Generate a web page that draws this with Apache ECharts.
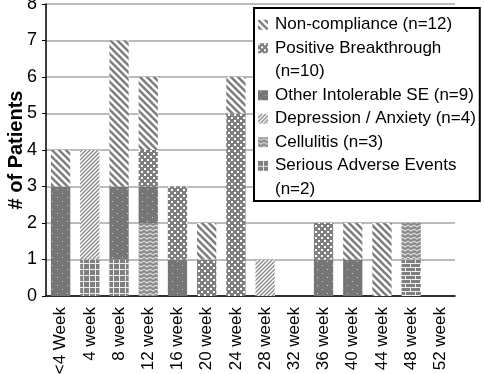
<!DOCTYPE html>
<html>
<head>
<meta charset="utf-8">
<script src="https://cdn.jsdelivr.net/npm/echarts@6/dist/echarts.min.js"></script>
<style>
  html, body { margin: 0; padding: 0; background: #fff; }
  #chart { width: 484px; height: 374px; }
</style>
</head>
<body>
<div id="chart"></div>
<script>
var categories = ['<4 Week', '4 week', '8 week', '12 week', '16 week', '20 week', '24 week',
  '28 week', '32 week', '36 week', '40 week', '44 week', '48 week', '52 week'];
var yTicks = [0, 1, 2, 3, 4, 5, 6, 7, 8];

// stacked bottom -> top
var seriousAE     = [0, 1, 1, 0, 0, 0, 0, 0, 0, 0, 0, 0, 0, 0];
var unlisted      = [0, 0, 0, 0, 0, 0, 0, 0, 0, 0, 0, 0, 1, 0];
var cellulitis    = [0, 0, 0, 2, 0, 0, 0, 0, 0, 0, 0, 0, 1, 0];
var otherSE       = [3, 0, 2, 1, 1, 0, 0, 0, 0, 1, 1, 0, 0, 0];
var depression    = [0, 3, 0, 0, 0, 0, 0, 1, 0, 0, 0, 0, 0, 0];
var positiveBT    = [0, 0, 0, 1, 2, 1, 5, 0, 0, 1, 0, 0, 0, 0];
var nonCompliance = [1, 0, 4, 2, 0, 1, 1, 0, 0, 0, 1, 2, 0, 0];

var names = {
  nc: 'Non-compliance (n=12)',
  pb: 'Positive Breakthrough',
  pbN: '(n=10)',
  ose: 'Other Intolerable SE (n=9)',
  dep: 'Depression / Anxiety (n=4)',
  cel: 'Cellulitis (n=3)',
  sae: 'Serious Adverse Events',
  saeN: '(n=2)'
};

function makePattern(w, h, draw) {
  var c = document.createElement('canvas');
  c.width = w;
  c.height = h;
  var ctx = c.getContext('2d');
  draw(ctx, w, h);
  return { image: c, repeat: 'repeat' };
}

var GRAY = '#7f7f7f';

var patNC = makePattern(7, 7, function (ctx, w, h) {
  ctx.fillStyle = '#fff';
  ctx.fillRect(0, 0, w, h);
  ctx.strokeStyle = GRAY;
  ctx.lineWidth = 2.6;
  for (var k = -1; k <= 1; k++) {
    ctx.beginPath();
    ctx.moveTo(k * w - 2, -2);
    ctx.lineTo(k * w + w + 2, h + 2);
    ctx.stroke();
  }
});

var patPB = makePattern(6, 6, function (ctx, w, h) {
  ctx.fillStyle = GRAY;
  ctx.fillRect(0, 0, w, h);
  ctx.fillStyle = '#fff';
  ctx.fillRect(0, 0, 2, 2);
  ctx.fillRect(3, 3, 2, 2);
});

var patOSE = makePattern(10, 8, function (ctx, w, h) {
  ctx.fillStyle = '#767676';
  ctx.fillRect(0, 0, w, h);
  ctx.fillStyle = '#d0d0d0';
  ctx.fillRect(2, 1, 1, 1);
  ctx.fillRect(7, 5, 1, 1);
});

var patDEP = makePattern(4, 4, function (ctx, w, h) {
  ctx.fillStyle = '#fff';
  ctx.fillRect(0, 0, w, h);
  ctx.strokeStyle = '#8c8c8c';
  ctx.lineWidth = 1.4;
  for (var k = -1; k <= 1; k++) {
    ctx.beginPath();
    ctx.moveTo(k * w - 1, h + 1);
    ctx.lineTo(k * w + w + 1, -1);
    ctx.stroke();
  }
});

var patCEL = makePattern(6, 4, function (ctx, w, h) {
  ctx.fillStyle = '#8a8a8a';
  ctx.fillRect(0, 0, w, h);
  ctx.strokeStyle = '#e0e0e0';
  ctx.lineWidth = 1.1;
  ctx.beginPath();
  ctx.moveTo(-1, 0.5);
  ctx.lineTo(3, 3);
  ctx.lineTo(7, 0.5);
  ctx.stroke();
});

var patSAE = makePattern(6, 6, function (ctx, w, h) {
  ctx.fillStyle = GRAY;
  ctx.fillRect(0, 0, w, h);
  ctx.fillStyle = '#f0f0f0';
  ctx.fillRect(5, 0, 1, h);
  ctx.fillRect(0, 5, w, 1);
});

var patBrick = makePattern(10, 8, function (ctx, w, h) {
  ctx.fillStyle = GRAY;
  ctx.fillRect(0, 0, w, h);
  ctx.fillStyle = '#f0f0f0';
  ctx.fillRect(0, 3, w, 1);
  ctx.fillRect(0, 7, w, 1);
  ctx.fillRect(0, 0, 1, 3);
  ctx.fillRect(5, 4, 1, 3);
});

function barSeries(name, data, pattern) {
  return {
    name: name,
    type: 'bar',
    stack: 'total',
    barWidth: '66%',
    data: data,
    itemStyle: { color: pattern },
    emphasis: { disabled: true }
  };
}

var chart = echarts.init(document.getElementById('chart'));
var FONT = 'Liberation Sans';
var noIcon = { color: 'rgba(0,0,0,0)' };

var option = {
  backgroundColor: '#fff',
  animation: false,
  grid: { left: 46, right: 29, top: 4, bottom: 78, outerBoundsMode: 'none' },
  legend: {
    orient: 'vertical',
    left: 254,
    top: 8,
    padding: [5, 4, 0, 4],
    itemGap: 0,
    itemWidth: 10,
    itemHeight: 10,
    icon: 'rect',
    backgroundColor: '#fff',
    borderColor: '#000',
    borderWidth: 2,
    borderRadius: 0,
    textStyle: { fontFamily: FONT, fontSize: 17, color: '#000', lineHeight: 23.5, padding: [0, 0, 0, 2] },
    data: [
      names.nc,
      names.pb,
      { name: names.pbN, itemStyle: noIcon },
      names.ose,
      names.dep,
      names.cel,
      names.sae,
      { name: names.saeN, itemStyle: noIcon }
    ],
    selectedMode: false,
    z: 10
  },
  xAxis: {
    type: 'category',
    data: categories,
    axisLine: { lineStyle: { color: '#000', width: 1.5 } },
    axisTick: { show: false },
    axisLabel: {
      rotate: 90,
      interval: 0,
      margin: 11,
      fontFamily: FONT,
      fontSize: 17,
      color: '#000'
    }
  },
  yAxis: {
    type: 'value',
    min: 0,
    max: 8,
    interval: 1,
    name: '# of Patients',
    nameLocation: 'middle',
    nameGap: 20,
    nameMoveOverlap: false,
    nameTextStyle: { fontFamily: FONT, fontSize: 20, fontWeight: 'bold', color: '#000' },
    axisLine: { show: true, lineStyle: { color: '#000', width: 1.5 } },
    axisTick: { show: true, length: 4, lineStyle: { color: '#000' } },
    axisLabel: {
      margin: 9,
      fontFamily: FONT,
      fontSize: 18,
      color: '#000',
      formatter: function (v) { return yTicks.indexOf(v) >= 0 ? String(v) : ''; }
    },
    splitLine: { lineStyle: { color: '#a6a6a6', width: 1.5 } }
  },
  series: [
    barSeries(names.sae, seriousAE, patSAE),
    barSeries('brick', unlisted, patBrick),
    barSeries(names.cel, cellulitis, patCEL),
    barSeries(names.ose, otherSE, patOSE),
    barSeries(names.dep, depression, patDEP),
    barSeries(names.pb, positiveBT, patPB),
    barSeries(names.nc, nonCompliance, patNC),
    // second legend lines only, no bars
    barSeries(names.pbN, [], patPB),
    barSeries(names.saeN, [], patSAE)
  ]
};

chart.setOption(option);
</script>
</body>
</html>
